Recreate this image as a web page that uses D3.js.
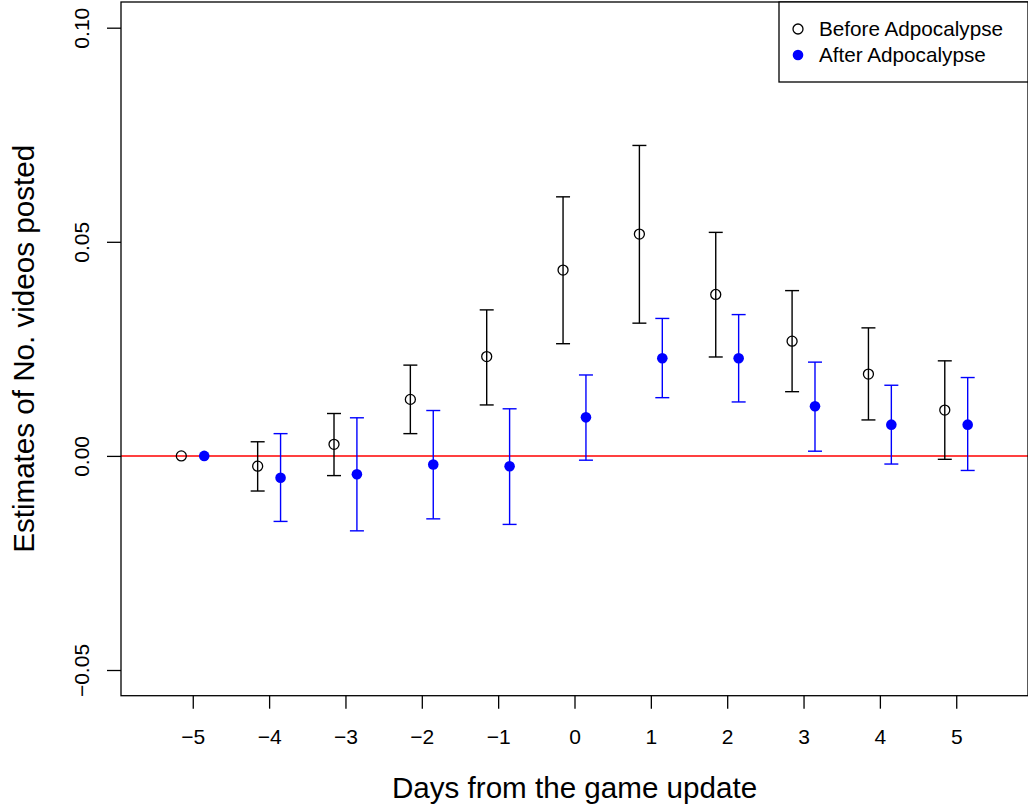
<!DOCTYPE html>
<html>
<head>
<meta charset="utf-8">
<script src="https://cdn.jsdelivr.net/npm/d3@7"></script>
<style>
  body { margin: 0; background: #fff; }
  svg { display: block; font-family: "Liberation Sans", Arial, sans-serif; }
</style>
</head>
<body>
<div id="chart"></div>
<script>
// days relative to the update
const days = [-5, -4, -3, -2, -1, 0, 1, 2, 3, 4, 5];

// before adpocalypse: estimate, upper, lower
const beforeEst = [0, -0.0024, 0.0027, 0.0132, 0.0232, 0.0434, 0.0518, 0.0377, 0.0268, 0.0191, 0.0107];
const beforeHi  = [0, 0.0033, 0.0099, 0.0212, 0.0341, 0.0605, 0.0725, 0.0522, 0.0386, 0.0299, 0.0222];
const beforeLo  = [0, -0.0082, -0.0046, 0.0052, 0.0119, 0.0262, 0.0310, 0.0231, 0.0150, 0.0084, -0.0008];

// after adpocalypse
const afterEst = [0, -0.0051, -0.0043, -0.0020, -0.0024, 0.0090, 0.0228, 0.0228, 0.0116, 0.0073, 0.0073];
const afterHi  = [0, 0.0052, 0.0089, 0.0106, 0.0110, 0.0189, 0.0321, 0.0330, 0.0219, 0.0165, 0.0183];
const afterLo  = [0, -0.0153, -0.0175, -0.0147, -0.0160, -0.0010, 0.0136, 0.0126, 0.0011, -0.0019, -0.0034];

const yTicks = [-0.05, 0, 0.05, 0.10];
const legendLabels = ['Before Adpocalypse', 'After Adpocalypse'];

const width = 1028, height = 809;
const box = { left: 121, right: 1028, top: 2, bottom: 695.7 };

const svg = d3.select('#chart').append('svg')
  .attr('width', width)
  .attr('height', height);

const x = d3.scaleLinear().domain([-5.94, 5.94]).range([box.left, box.right]);
const y = d3.scaleLinear().domain([-0.056, 0.106]).range([box.bottom, box.top]);

// zero line
svg.append('line')
  .attr('x1', box.left).attr('x2', box.right)
  .attr('y1', y(0)).attr('y2', y(0))
  .attr('stroke', '#ff0000').attr('stroke-width', 1.5);

const makeSeries = (est, hi, lo, offset, color, filled) =>
  days.map((d, i) => ({ x: d + offset, est: est[i], hi: hi[i], lo: lo[i], color, filled }));

const series = [
  makeSeries(beforeEst, beforeHi, beforeLo, -0.15, '#000000', false),
  makeSeries(afterEst, afterHi, afterLo, 0.15, '#0000ff', true)
];

series.forEach(data => {
  const g = svg.append('g');
  const bars = data.filter(d => d.hi !== d.lo);
  g.selectAll('line.v').data(bars).enter().append('line')
    .attr('x1', d => x(d.x)).attr('x2', d => x(d.x))
    .attr('y1', d => y(d.hi)).attr('y2', d => y(d.lo))
    .attr('stroke', d => d.color).attr('stroke-width', 1.4);
  ['hi', 'lo'].forEach(k => {
    g.selectAll('line.' + k).data(bars).enter().append('line')
      .attr('x1', d => x(d.x) - 7).attr('x2', d => x(d.x) + 7)
      .attr('y1', d => y(d[k])).attr('y2', d => y(d[k]))
      .attr('stroke', d => d.color).attr('stroke-width', 1.4);
  });
  g.selectAll('circle').data(data).enter().append('circle')
    .attr('cx', d => x(d.x)).attr('cy', d => y(d.est))
    .attr('r', d => d.filled ? 5.3 : 5)
    .attr('fill', d => d.filled ? d.color : 'none')
    .attr('stroke', d => d.color)
    .attr('stroke-width', d => d.filled ? 0 : 1.3);
});

// plot box
svg.append('rect')
  .attr('x', box.left).attr('y', box.top)
  .attr('width', box.right - box.left).attr('height', box.bottom - box.top)
  .attr('fill', 'none').attr('stroke', '#000').attr('stroke-width', 1.3);

// x axis
const xAxis = svg.append('g')
  .attr('transform', `translate(0,${box.bottom})`)
  .call(d3.axisBottom(x).tickValues(days).tickSize(13).tickPadding(20)
    .tickFormat(d => d < 0 ? '\u2212' + Math.abs(d) : String(d)));
xAxis.select('.domain').remove();
xAxis.selectAll('line').attr('stroke', '#000').attr('stroke-width', 1.3);
xAxis.selectAll('text').attr('font-size', 21).attr('fill', '#000')
  .attr('font-family', '"Liberation Sans", Arial, sans-serif');

// y axis
const yAxis = svg.append('g')
  .attr('transform', `translate(${box.left},0)`)
  .call(d3.axisLeft(y).tickValues(yTicks).tickSize(14)
    .tickFormat(d => (d < 0 ? '\u2212' : '') + Math.abs(d).toFixed(2)));
yAxis.select('.domain').remove();
yAxis.selectAll('line').attr('stroke', '#000').attr('stroke-width', 1.3);
yAxis.selectAll('text')
  .attr('font-size', 21).attr('fill', '#000')
  .attr('font-family', '"Liberation Sans", Arial, sans-serif')
  .attr('text-anchor', 'middle')
  .attr('dy', 0)
  .attr('x', 0)
  .attr('transform', 'translate(-32,0) rotate(-90)');

// axis titles
svg.append('text')
  .attr('x', (box.left + box.right) / 2).attr('y', 798)
  .attr('text-anchor', 'middle')
  .attr('font-size', 29.6)
  .text('Days from the game update');

svg.append('text')
  .attr('transform', `translate(34,${(box.top + box.bottom) / 2}) rotate(-90)`)
  .attr('text-anchor', 'middle')
  .attr('font-size', 29.6)
  .text('Estimates of No. videos posted');

// legend
const legend = svg.append('g');
legend.append('rect')
  .attr('x', 779).attr('y', box.top)
  .attr('width', box.right - 779).attr('height', 82 - box.top)
  .attr('fill', '#fff').attr('stroke', '#000').attr('stroke-width', 1.3);
legendLabels.forEach((label, i) => {
  const cy = 29 + i * 26;
  legend.append('circle')
    .attr('cx', 798).attr('cy', cy).attr('r', i === 0 ? 5 : 5.3)
    .attr('fill', i === 0 ? 'none' : '#0000ff')
    .attr('stroke', i === 0 ? '#000' : 'none')
    .attr('stroke-width', 1.3);
  legend.append('text')
    .attr('x', 819).attr('y', cy + 7)
    .attr('font-size', 20.7)
    .text(label);
});
</script>
</body>
</html>
